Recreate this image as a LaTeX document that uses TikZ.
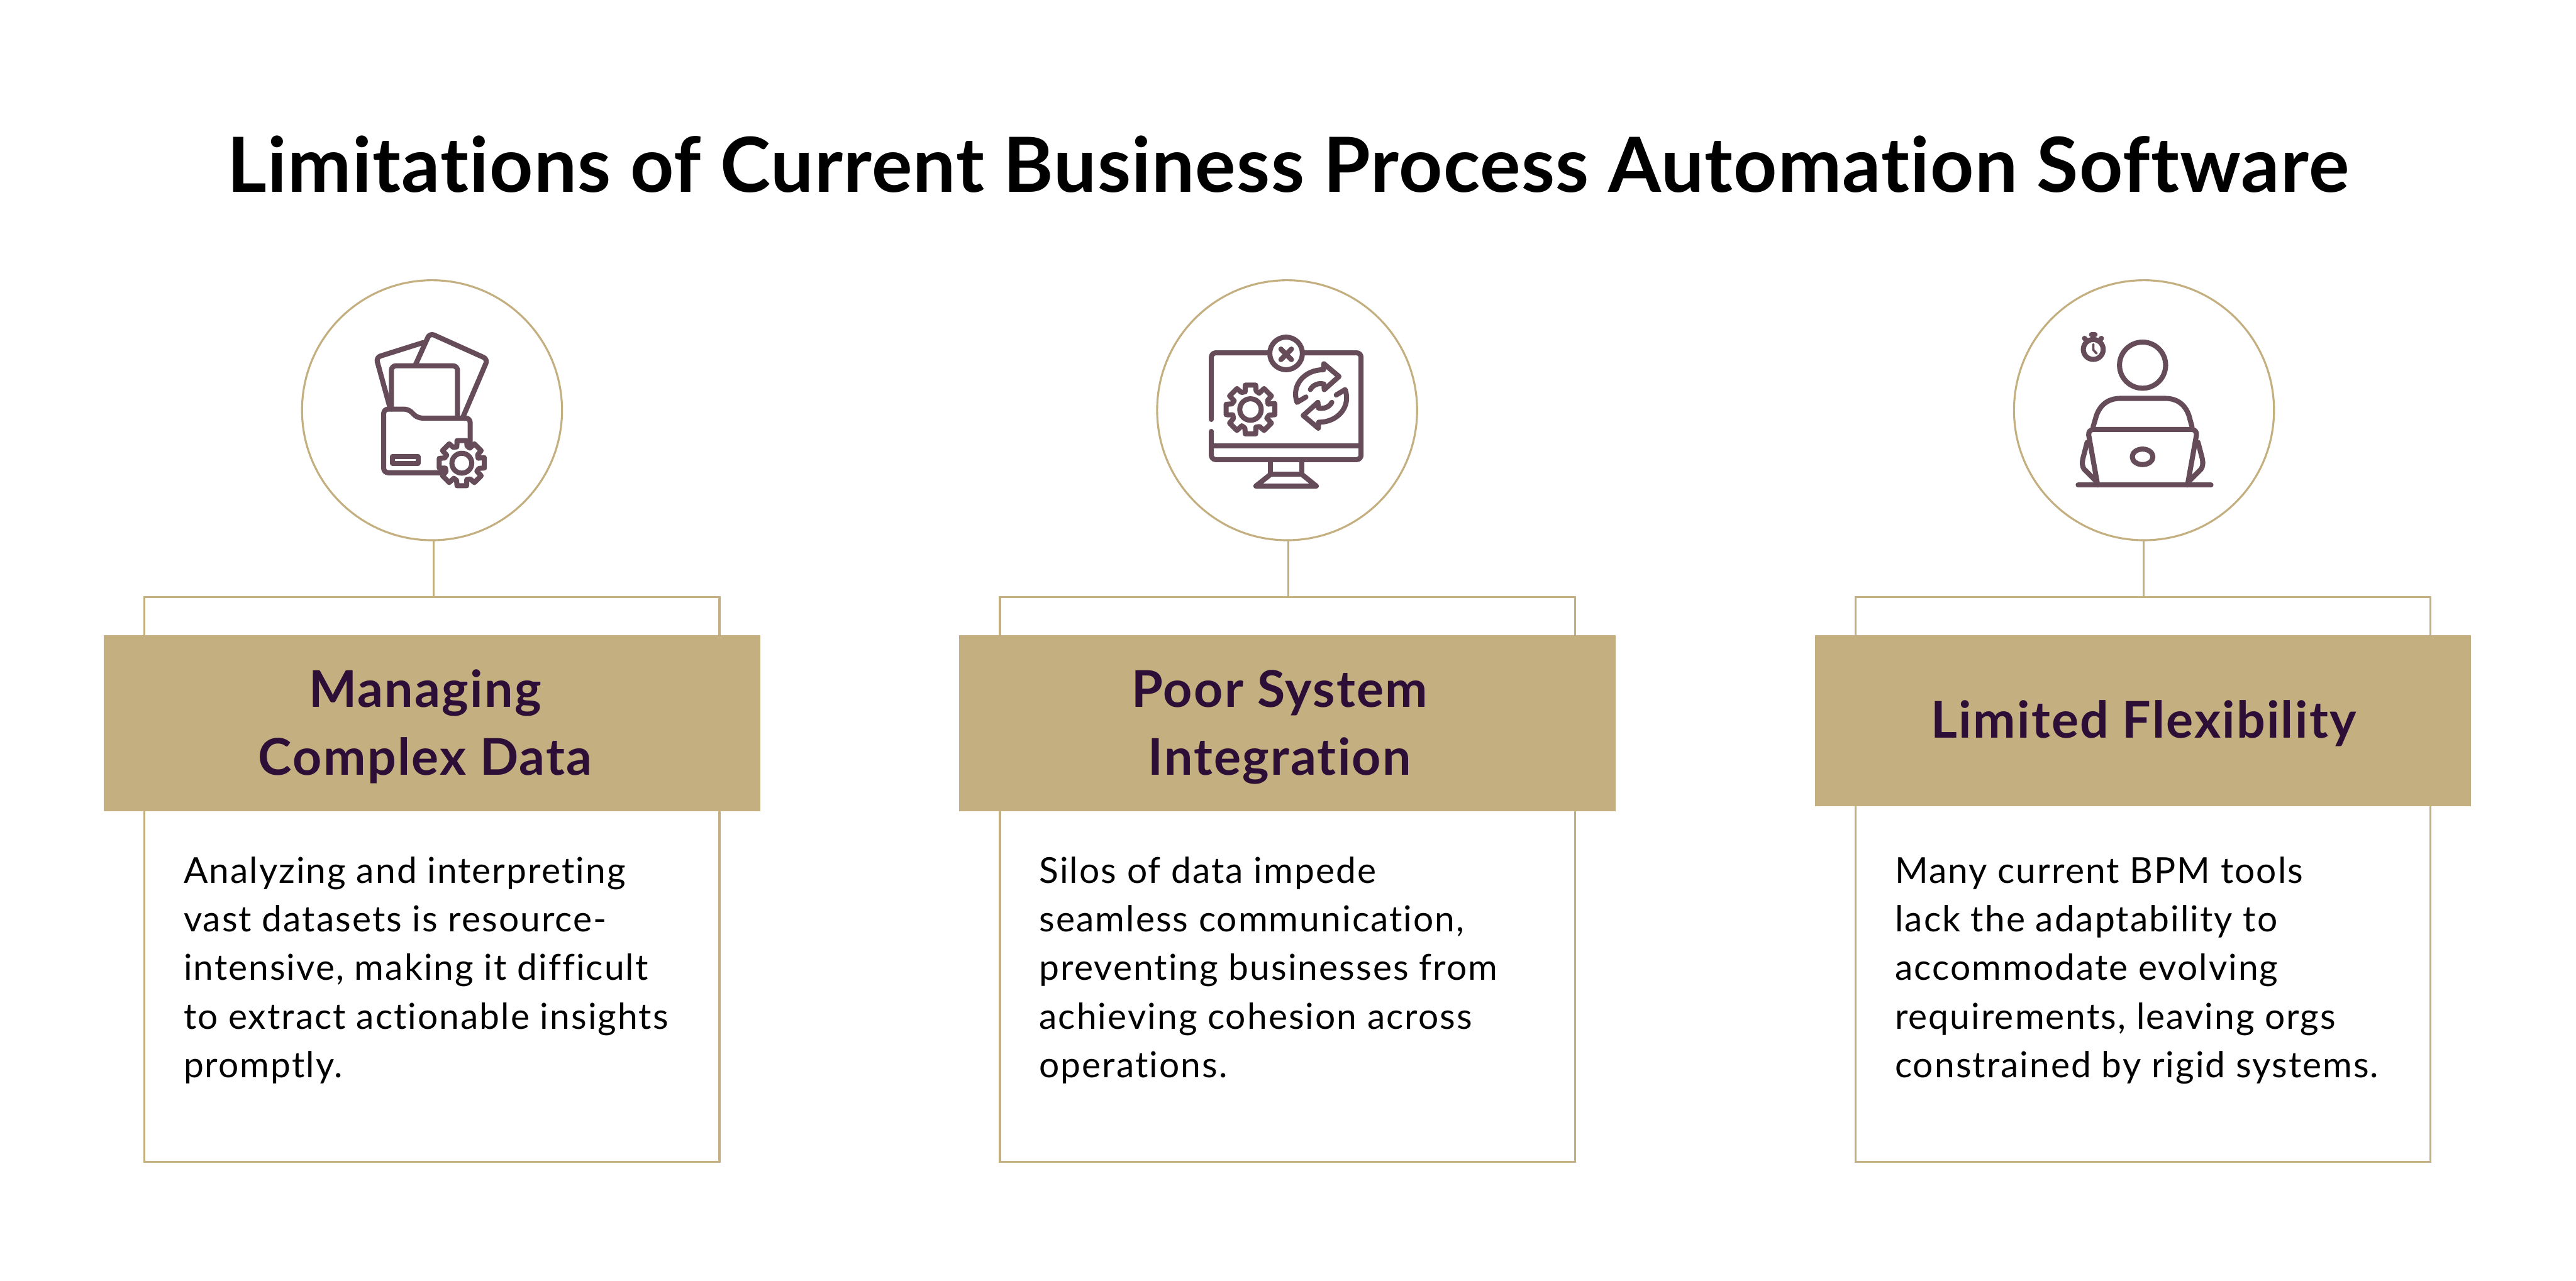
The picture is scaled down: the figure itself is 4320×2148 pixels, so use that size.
\documentclass[tikz,border=0pt]{standalone}
\usepackage{fontspec}
\setmainfont{Lato}
\newfontfamily\titlefont[LetterSpace=1.0,Ligatures=NoCommon]{Lato}
\newfontfamily\headfont[LetterSpace=2.8,Ligatures=NoCommon]{Lato}
\newfontfamily\bodyfont[LetterSpace=3.6,Ligatures=NoCommon]{Lato}
\definecolor{mygold}{HTML}{C3AF7F}
\definecolor{myplum}{HTML}{664C58}
\definecolor{mydark}{HTML}{2D0E36}
\usetikzlibrary{positioning,calc}

\tikzset{
    gearicon/.pic={
        \draw[iconline,fill=white] (-14:116)
            \foreach \a in {0,45,...,315} {
                -- (\a-12:116) -- (\a+12:116) -- (\a+17:90) -- (\a+28:86)
            } -- cycle;
        \draw[iconline] (0,0) circle (50);
    }
}

\begin{document}
\begin{tikzpicture}[x=0.2pt,y=-0.2pt,
        every node/.style={inner sep=0pt,outer sep=0pt},
        ringnode/.style={draw=mygold,circle,line width=0.66pt,minimum size=87.2pt},
        boxnode/.style={draw=mygold,line width=0.66pt,minimum width=192.8pt,minimum height=189.5pt},
        bannernode/.style={fill=mygold,minimum width=220.2pt},
        headnode/.style={text=mydark,align=center,font=\headfont\bfseries\fontsize{17}{22.8}\selectfont},
        bodynode/.style={text=black,align=left,font=\bodyfont\fontsize{12}{16.3}\selectfont},
        iconline/.style={draw=myplum,line width=1.7pt,line join=round,line cap=round},
        stemline/.style={draw=mygold,line width=0.66pt}
        ]
        \useasboundingbox (0,0) rectangle (4320,2148);

        % the heading
        \node (title) [anchor=base,font=\titlefont\bfseries\fontsize{25.5}{32}\selectfont] at (2160,322)
            {Limitations of Current Business Process Automation Software};

        % the rings
        \node[ringnode] (c1) at (724.5,688) {};
        \node[ringnode] (c2) at (2158.5,688) {};
        \node[ringnode] (c3) at (3595.5,688) {};

        % the boxes
        \node[boxnode] (b1) at (724.5,1474.75) {};
        \node[boxnode] (b2) at (2159,1474.75) {};
        \node[boxnode] (b3) at (3594,1474.75) {};

        % the banners
        \node[bannernode,minimum height=59.2pt] (r1) at (724.5,1213) {};
        \node[bannernode,minimum height=59.2pt] (r2) at (2159,1213) {};
        \node[bannernode,minimum height=57.46pt] (r3) at (3593.8,1208.65) {};

        % the banner texts
        \node[headnode,anchor=base] (h1) at (713,1300) {Managing\\Complex Data};
        \node[headnode,anchor=base] (h2) at (2146,1300) {Poor System\\Integration};
        \node[headnode,anchor=base] (h3) at (3595,1238) {Limited Flexibility};

        % the body texts
        \node[bodynode,anchor=base west] (t1) at (308,1807) {Analyzing and interpreting\\vast datasets is resource-\\intensive, making it difficult\\to extract actionable insights\\promptly.};
        \node[bodynode,anchor=base west] (t2) at (1743,1807) {Silos of data impede\\seamless communication,\\preventing businesses from\\achieving cohesion across\\operations.};
        \node[bodynode,anchor=base west] (t3) at (3178,1807) {Many current BPM tools\\lack the adaptability to\\accommodate evolving\\requirements, leaving orgs\\constrained by rigid systems.};

        % the stems
        \coordinate (s1) at (727,906);
        \coordinate (s2) at (2160.7,906);
        \coordinate (s3) at (3595,906);
        \draw[stemline] (s1) -- (s1 |- b1.north);
        \draw[stemline] (s2) -- (s2 |- b2.north);
        \draw[stemline] (s3) -- (s3 |- b3.north);

        % the folder icon
        \begin{scope}[shift={(480,440)},x=0.0667pt,y=-0.0667pt]
        \draw[iconline,rounded corners=1.5pt] (520,725) -- (452,478) -- (690,403);
        \draw[iconline,rounded corners=1.5pt] (650,515) -- (722,356) -- (1013,487) -- (888,780);
        \draw[iconline,rounded corners=1.5pt] (529,738) -- (529,520) -- (861,520) -- (861,783);
        \draw[iconline,rounded corners=1.5pt] (925,915) -- (925,783) -- (660,783) -- (615,738) -- (490,738) -- (490,1058) -- (790,1058);
        \draw[iconline] (533,976) rectangle (663,1010);
        \pic at (883,1010) {gearicon};
        \end{scope}

        % the monitor icon
        \begin{scope}[shift={(1910,440)},x=0.0667pt,y=-0.0667pt]
        \draw[iconline,rounded corners=1.5pt] (364,790) -- (364,455) -- (1117,455) -- (1117,992) -- (364,992) -- (364,850);
        \draw[iconline] (364,923) -- (1117,923);
        \draw[iconline,fill=white] (740,458) circle (82);
        \draw[iconline] (714,436) -- (767,489);
        \draw[iconline] (767,436) -- (714,489);
        \draw[iconline] (662,992) -- (662,1066) -- (819,1066) -- (819,992);
        \draw[iconline] (662,1066) -- (588,1125) -- (892,1125) -- (819,1066);
        \pic[scale=1.08] at (561,740) {gearicon};
        \draw[iconline] (840,677) -- (795,704) .. controls (765,620) and (830,540) .. (928,540) -- (930,510) -- (1006,574) -- (932,640) -- (930,612) .. controls (905,605) and (875,615) .. (862,640);
        \draw[iconline] (992,667) -- (1037,640) .. controls (1067,724) and (1002,804) .. (904,804) -- (902,834) -- (826,770) -- (900,704) -- (902,732) .. controls (927,739) and (957,729) .. (970,704);
        \end{scope}

        % the worker icon
        \begin{scope}[shift={(3350,440)},x=0.0667pt,y=-0.0667pt]
        \draw[iconline] (729,517) circle (116);
        \draw[iconline] (480,828) -- (497,770) .. controls (520,705) and (570,684) .. (615,684) -- (845,684) .. controls (890,684) and (940,705) .. (962,770) -- (978,828);
        \draw[iconline,rounded corners=2pt] (503,1120) -- (453,840) -- (1005,840) -- (955,1120);
        \draw[iconline] (405,1120) -- (1073,1120);
        \draw[iconline] (729,978) ellipse (52 and 39);
        \draw[iconline] (450,905) -- (428,990) .. controls (425,1010) and (425,1025) .. (435,1040) -- (490,1095);
        \draw[iconline] (1008,905) -- (1030,990) .. controls (1033,1010) and (1033,1025) .. (1023,1040) -- (968,1095);
        \draw[iconline] (481,438) circle (50);
        \draw[iconline] (472,364) -- (490,364);
        \draw[iconline] (481,364) -- (481,385);
        \draw[iconline] (437,382) -- (450,395);
        \draw[iconline] (522,382) -- (512,395);
        \draw[iconline,line width=0.8pt] (481,412) -- (481,440) -- (498,458);
        \end{scope}
\end{tikzpicture}
\end{document}
